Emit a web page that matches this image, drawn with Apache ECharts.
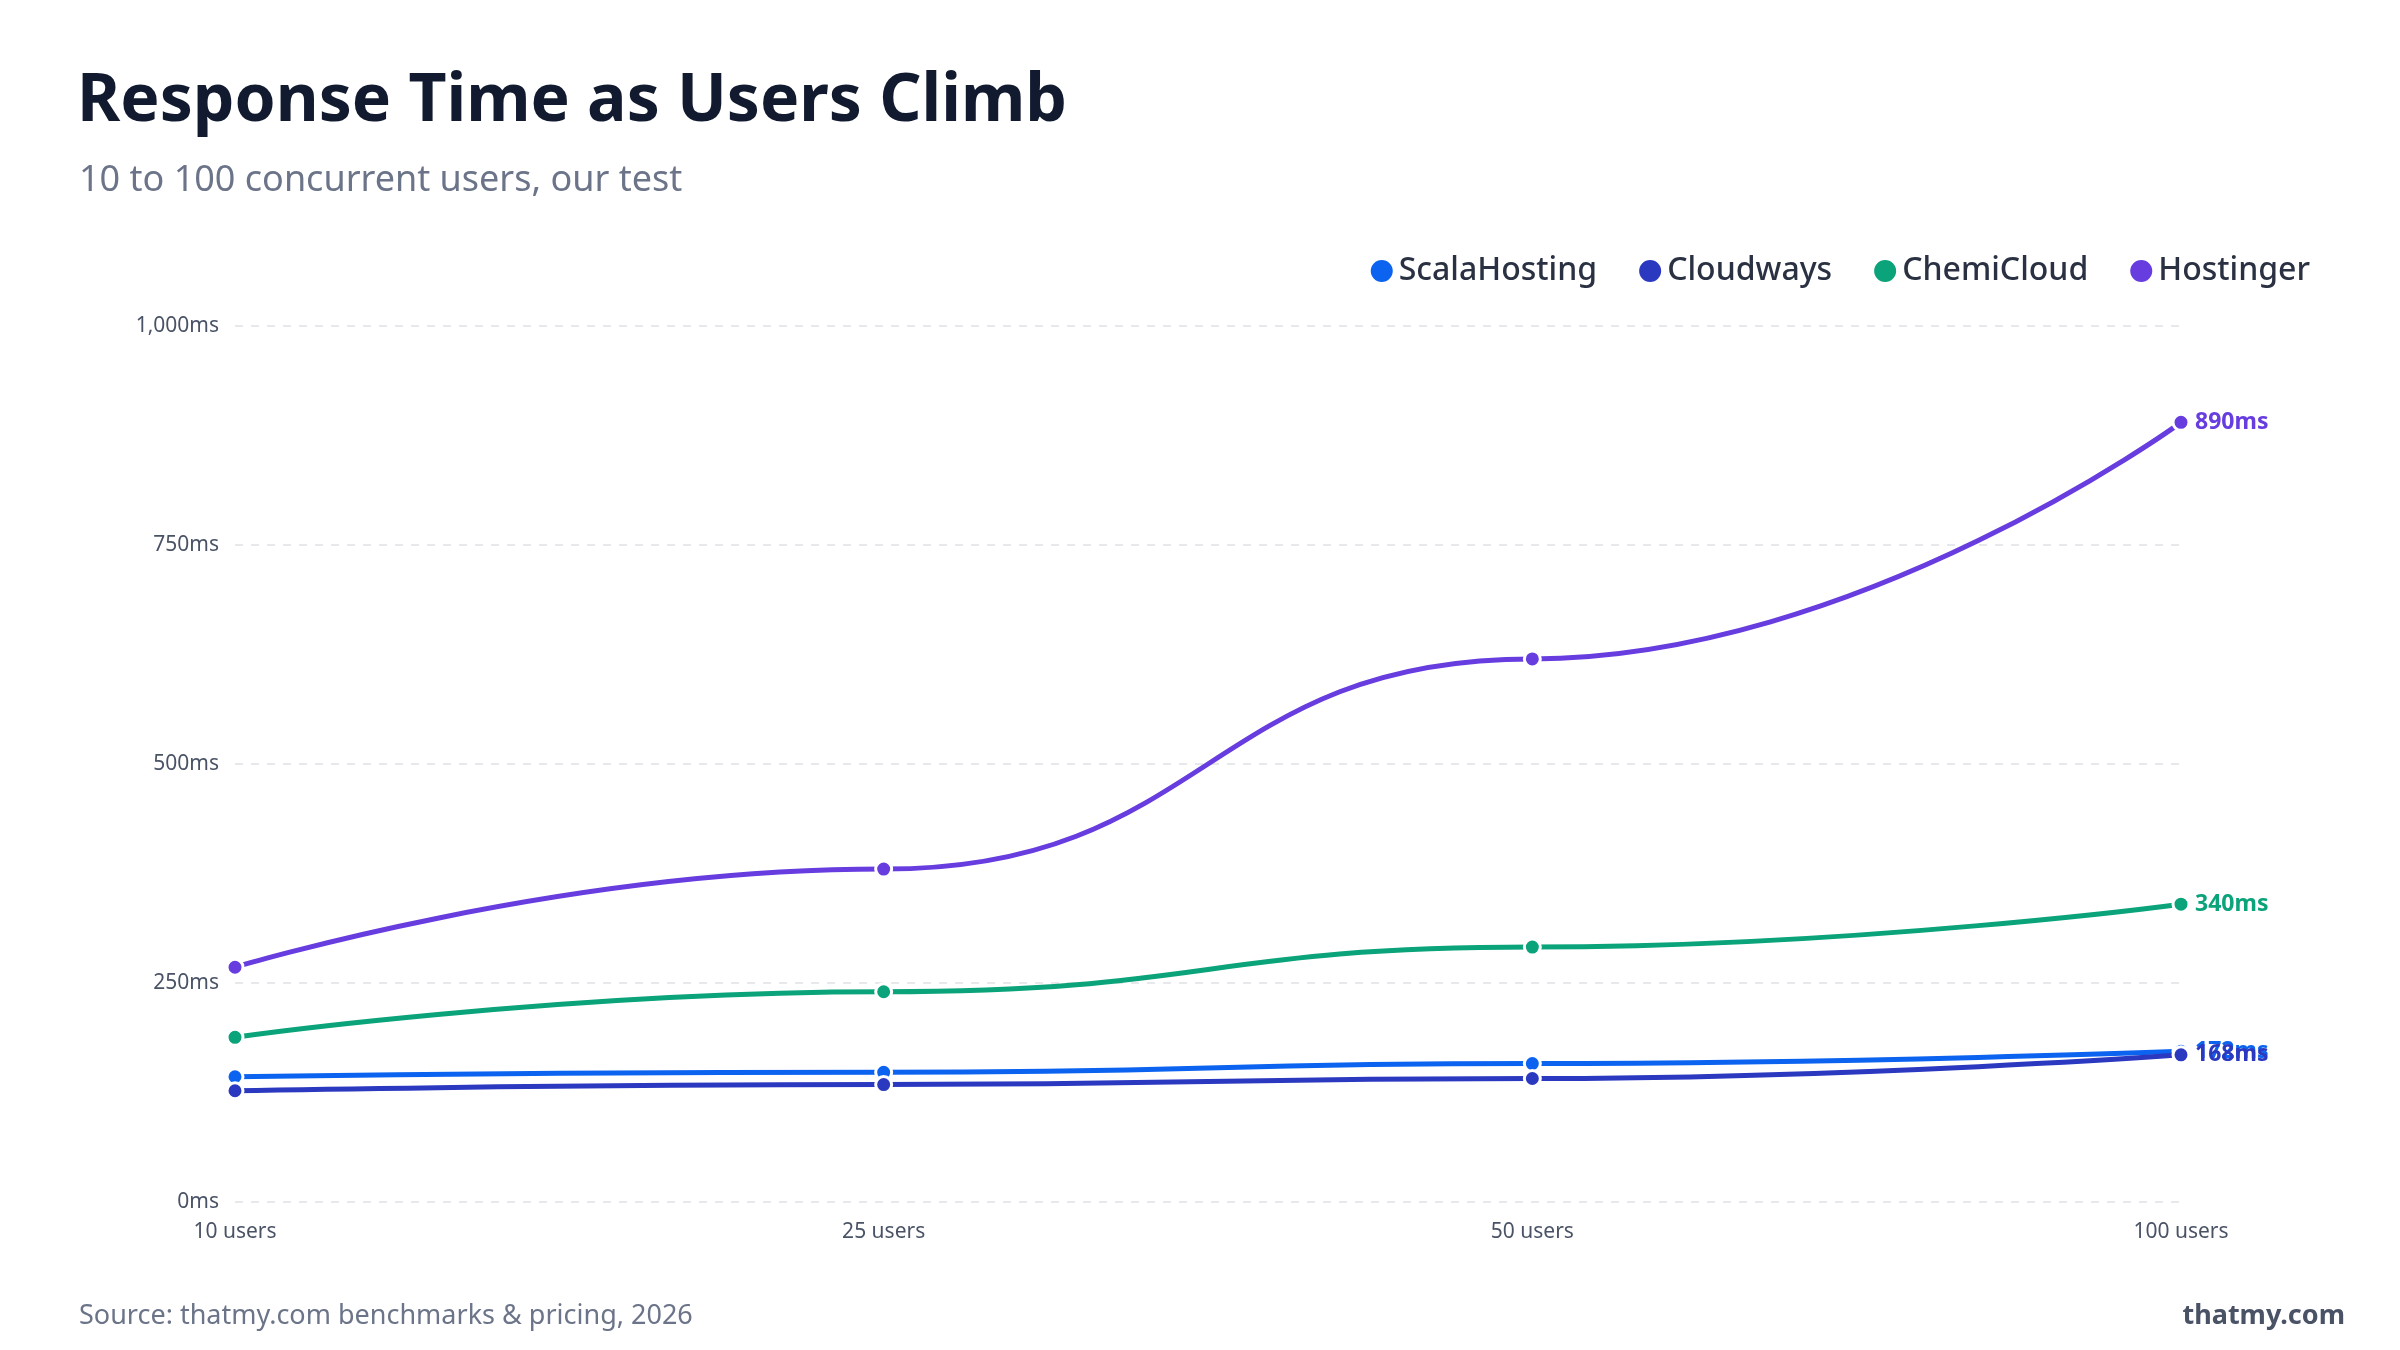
<!DOCTYPE html>
<html><head><meta charset="utf-8">
<script src="https://cdn.jsdelivr.net/npm/echarts@6/dist/echarts.min.js"></script>
<style>html,body{margin:0;background:#fff}#c{width:2400px;height:1350px}</style>
</head><body><div id="c"></div>
<script>
const categories = ['10 users', '25 users', '50 users', '100 users'];
const scalaHosting = [143, 148, 158, 172];
const cloudways = [127, 134, 141, 168];
const chemiCloud = [188, 240, 291, 340];
const hostinger = [268, 380, 620, 890];
const yTicks = [0, 250, 500, 750, 1000];

const font = '"Noto Sans", "Open Sans", sans-serif';
const chart = echarts.init(document.getElementById('c'));

function line(name, data, color) {
  return {
    name, type: 'line', data, smooth: 0.5, smoothMonotone: 'x',
    symbol: 'circle', symbolSize: 16,
    lineStyle: { width: 5, color },
    itemStyle: { color, borderColor: '#fff', borderWidth: 3 },
    endLabel: {
      show: true, color, fontFamily: font, fontWeight: 'bold', fontSize: 23,
      distance: 14, formatter: p => p.value + 'ms'
    }
  };
}

chart.setOption({
  backgroundColor: '#fff',
  animation: false,
  title: [
    { text: 'Response Time as Users Climb', left: 72, top: 64,
      textStyle: { fontFamily: font, fontSize: 66, fontWeight: 'bold', color: '#111a2e' } },
    { text: '10 to 100 concurrent users, our test', left: 74, top: 158,
      textStyle: { fontFamily: font, fontSize: 36, fontWeight: 'normal', color: '#6b7488' } },
    { text: 'Source: thatmy.com benchmarks & pricing, 2026', left: 74, top: 1298,
      textStyle: { fontFamily: font, fontSize: 27, fontWeight: 'normal', color: '#6b7488' } },
    { text: 'thatmy.com', right: 50, top: 1298,
      textStyle: { fontFamily: font, fontSize: 27, fontWeight: 'bold', color: '#4a5366' } }
  ],
  legend: {
    right: 85, top: 250, icon: 'circle', itemWidth: 24, itemHeight: 24, itemGap: 40,
    textStyle: { fontFamily: font, fontSize: 32, color: '#2a3142', fontWeight: 500 }
  },
  grid: { left: 235, right: 219, top: 326, bottom: 148 },
  xAxis: {
    type: 'category', data: categories, boundaryGap: false,
    axisLine: { show: false }, axisTick: { show: false },
    axisLabel: { fontFamily: font, fontSize: 21, color: '#4a5366', margin: 20 }
  },
  yAxis: {
    type: 'value', min: 0, max: 1000, interval: 250,
    axisLabel: { fontFamily: font, fontSize: 21, color: '#4a5366', margin: 16,
      formatter: v => (yTicks.includes(v) ? v.toLocaleString('en-US') + 'ms' : '') },
    splitLine: { lineStyle: { color: '#e6e8ec', type: [8, 8], width: 2 } }
  },
  series: [
    line('ScalaHosting', scalaHosting, '#0b63f0'),
    line('Cloudways', cloudways, '#2b38c0'),
    line('ChemiCloud', chemiCloud, '#0aa37a'),
    line('Hostinger', hostinger, '#673de0')
  ]
});
</script></body></html>
